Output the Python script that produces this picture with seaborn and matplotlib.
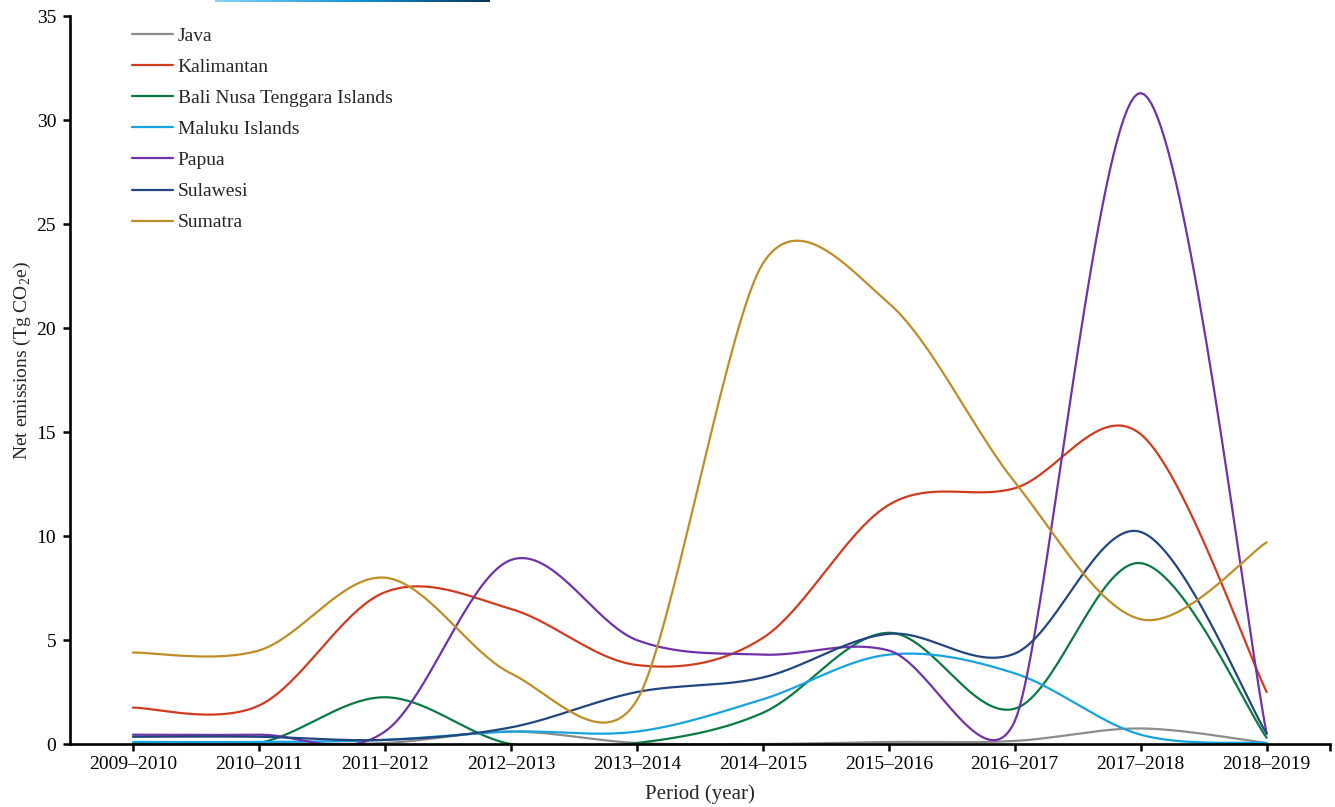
import numpy as np
import pandas as pd
import seaborn as sns
import matplotlib
matplotlib.use("Agg")
import matplotlib.pyplot as plt
from matplotlib.colors import LinearSegmentedColormap

periods = ["2009–2010", "2010–2011", "2011–2012", "2012–2013", "2013–2014",
           "2014–2015", "2015–2016", "2016–2017", "2017–2018", "2018–2019"]

java = [0.05, 0.05, 0.05, 0.6, 0.05, 0.0, 0.1, 0.15, 0.75, 0.05]
kalimantan = [1.75, 1.85, 7.3, 6.5, 3.8, 5.1, 11.5, 12.3, 14.9, 2.5]
bali_nusa = [0.0, 0.05, 2.25, 0.0, 0.05, 1.5, 5.35, 1.7, 8.7, 0.3]
maluku = [0.1, 0.1, 0.2, 0.6, 0.6, 2.15, 4.3, 3.4, 0.45, 0.05]
papua = [0.45, 0.45, 0.6, 8.85, 5.0, 4.3, 4.5, 1.1, 31.3, 0.5]
sulawesi = [0.35, 0.35, 0.2, 0.8, 2.5, 3.2, 5.3, 4.35, 10.2, 0.5]
sumatra = [4.4, 4.5, 8.0, 3.4, 2.1, 23.1, 21.2, 12.6, 6.0, 9.7]

regions = ["Java", "Kalimantan", "Bali Nusa Tenggara Islands", "Maluku Islands",
           "Papua", "Sulawesi", "Sumatra"]
series = [java, kalimantan, bali_nusa, maluku, papua, sulawesi, sumatra]
colors = ["#8c8c8c", "#d13b1f", "#0b7a42", "#17a2e0", "#7032a8", "#22467f", "#bf8d26"]


def smooth(values, aspect=0.165, n=40):
    # spreadsheet-style smoothed line: bezier with tension 1/6,
    # limited to half of the shorter neighbouring segment
    x = np.arange(len(values), dtype=float)
    y = np.asarray(values, dtype=float) * aspect
    pts = np.column_stack([x, y])
    m = len(pts)
    cin = pts.copy()
    cout = pts.copy()
    for i in range(m):
        p_prev = pts[max(i - 1, 0)]
        p_next = pts[min(i + 1, m - 1)]
        t = p_next - p_prev
        d01 = np.hypot(*(pts[i] - p_prev))
        d12 = np.hypot(*(p_next - pts[i]))
        d02 = np.hypot(*t)
        if d02 == 0:
            continue
        if i == 0 or i == m - 1:
            f = 1 / 6
        else:
            f = min(1 / 6, min(d01, d12) / (2 * d02))
        cin[i] = pts[i] - t * f
        cout[i] = pts[i] + t * f
    tt = np.linspace(0, 1, n)[:, None]
    out = []
    for i in range(m - 1):
        b0, b1, b2, b3 = pts[i], cout[i], cin[i + 1], pts[i + 1]
        seg = ((1 - tt) ** 3 * b0 + 3 * (1 - tt) ** 2 * tt * b1
               + 3 * (1 - tt) * tt ** 2 * b2 + tt ** 3 * b3)
        out.append(seg if i == 0 else seg[1:])
    out = np.vstack(out)
    return out[:, 0], out[:, 1] / aspect


frames = []
for name, vals in zip(regions, series):
    sx, sy = smooth(vals)
    frames.append(pd.DataFrame({"x": sx, "value": sy, "region": name}))
df = pd.concat(frames, ignore_index=True)

sns.set_style("ticks")
plt.rcParams["font.family"] = ["Liberation Serif", "DejaVu Serif"]
plt.rcParams["mathtext.fontset"] = "custom"
plt.rcParams["mathtext.rm"] = "Liberation Serif"

fig = plt.figure(figsize=(13.35, 8.07), dpi=100)
ax = fig.add_axes([0.0524, 0.078, 0.9436, 0.902])

sns.lineplot(data=df, x="x", y="value", hue="region", hue_order=regions,
             palette=dict(zip(regions, colors)), sort=False, estimator=None,
             linewidth=1.6, ax=ax)

ax.set_xlim(-0.5, 9.5)
ax.set_ylim(0, 35)
ax.set_yticks(range(0, 36, 5))
ax.set_xticks(list(range(len(periods))) + [9.5])
ax.set_xticklabels(periods + [""])
ax.tick_params(axis="both", labelsize=14, colors="black", width=1.8, length=5, direction="out")
ax.tick_params(axis="y", pad=5)
for s in ["top", "right"]:
    ax.spines[s].set_visible(False)
for s in ["left", "bottom"]:
    ax.spines[s].set_linewidth(1.9)
    ax.spines[s].set_color("black")

ax.set_xlabel("Period (year)", fontsize=15, labelpad=8)
ax.set_ylabel(r"Net emissions (Tg CO$_\mathregular{2}$e)", fontsize=14)
ax.yaxis.set_label_coords(-0.029, 0.527)

handles, labels = ax.get_legend_handles_labels()
ax.legend(handles, labels, loc="upper left", bbox_to_anchor=(0.043, 0.995), frameon=False,
          fontsize=14, handlelength=2.1, handletextpad=0.25, labelspacing=0.69,
          borderaxespad=0)

# thin gradient strip at the top edge
bar = fig.add_axes([215 / 1335, 1 - 2.5 / 807, 275 / 1335, 2.5 / 807])
bar.imshow(np.linspace(0, 1, 256)[None, :], aspect="auto",
           cmap=LinearSegmentedColormap.from_list("strip", ["#86d3f5", "#1596d4", "#0a3556"]))
bar.axis("off")

fig.savefig("out.png", dpi=100)
